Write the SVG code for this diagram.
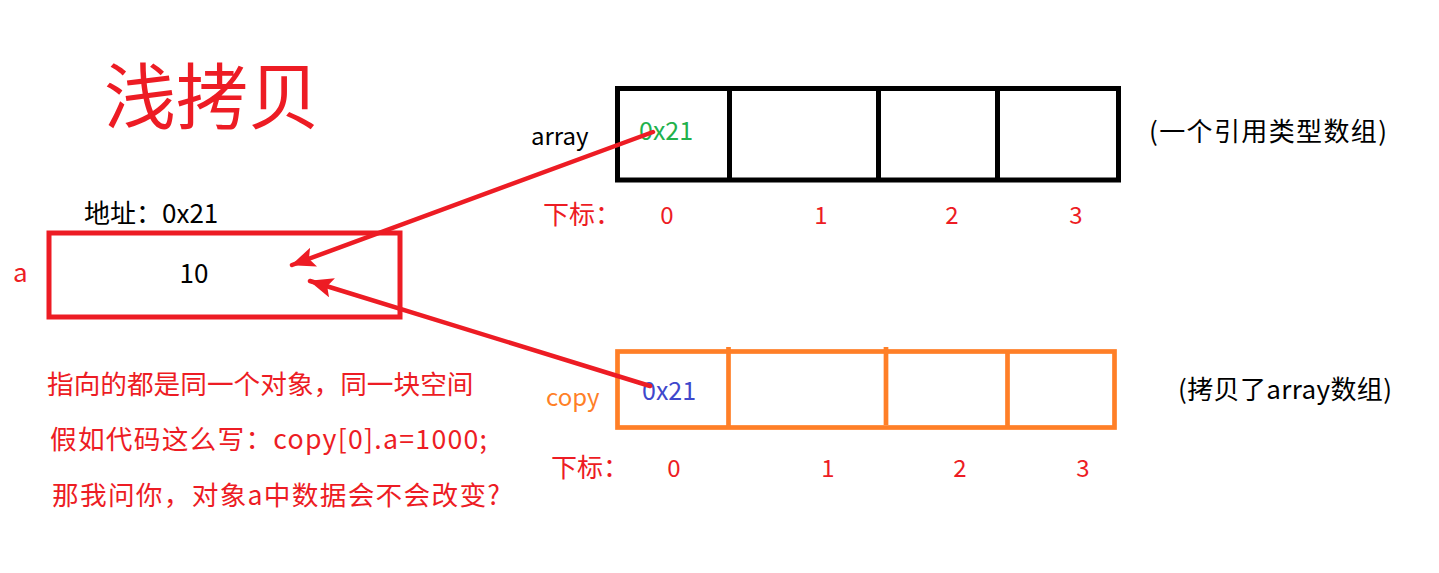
<svg xmlns="http://www.w3.org/2000/svg" width="1439" height="573" viewBox="0 0 1439 573">
<defs>
<style>
text{font-family:"Noto Sans CJK SC","Noto Sans",sans-serif;}
.red{fill:#ED1C24;}
.blk{fill:#000;}
.t26{font-size:26px;}
.t27{font-size:26.67px;}
.t24{font-size:24px;}
.mid{text-anchor:middle;}
.arrbox{fill:none;stroke:#000;stroke-width:5;}
.cpbox{fill:none;stroke:#FF7F27;stroke-width:4.7;}
.conn{stroke:#ED1C24;stroke-width:4.5;fill:none;stroke-linecap:round;}
</style>
<marker id="ah" markerUnits="userSpaceOnUse" markerWidth="26" markerHeight="22" refX="23" refY="10" orient="auto">
<path d="M0,0 L24,10 L0,20 L5,10 z" fill="#ED1C24"/>
</marker>
</defs>
<rect width="1439" height="573" fill="#fff"/>

<g id="title">
<text x="104" y="123" class="red" style="font-size:72px">浅拷贝</text>
</g>

<g id="node-a">
<text x="84" y="223" class="blk t26">地址：0x21</text>
<rect x="49" y="233" width="351" height="84" fill="none" stroke="#ED1C24" stroke-width="5"/>
<text x="194" y="283" class="blk t26 mid">10</text>
<text x="13" y="282" class="red t26">a</text>
</g>

<g id="node-array">
<text x="531" y="145" class="blk t24">array</text>
<rect x="617.5" y="88.5" width="501" height="91.5" class="arrbox"/>
<line x1="729.5" y1="88.5" x2="729.5" y2="180" class="arrbox"/>
<line x1="878.5" y1="88.5" x2="878.5" y2="180" class="arrbox"/>
<line x1="997.5" y1="88.5" x2="997.5" y2="180" class="arrbox"/>
<text x="639" y="140" style="font-size:25px;fill:#22B14C">0x21</text>
<text x="1149" y="141" class="blk t26" textLength="238" lengthAdjust="spacing">(一个引用类型数组)</text>
<text x="543" y="224" class="red t26">下标：</text>
<text x="667" y="224" class="red t24 mid">0</text>
<text x="821" y="224" class="red t24 mid">1</text>
<text x="952" y="224" class="red t24 mid">2</text>
<text x="1076" y="224" class="red t24 mid">3</text>
</g>

<g id="node-copy">
<text x="546" y="406" style="font-size:24px;fill:#FF7F27">copy</text>
<rect x="617.5" y="351.5" width="497" height="76" class="cpbox"/>
<line x1="728.5" y1="347" x2="728.5" y2="427" class="cpbox"/>
<line x1="886" y1="347" x2="886" y2="425" class="cpbox"/>
<line x1="1007.5" y1="351.5" x2="1007.5" y2="427" class="cpbox"/>
<text x="642" y="400" style="font-size:25px;fill:#3F48CC">0x21</text>
<text x="1178" y="399" class="blk t26" textLength="214" lengthAdjust="spacing">(拷贝了array数组)</text>
<text x="551" y="477" class="red t26">下标：</text>
<text x="674" y="477" class="red t24 mid">0</text>
<text x="828" y="477" class="red t24 mid">1</text>
<text x="960" y="477" class="red t24 mid">2</text>
<text x="1083" y="477" class="red t24 mid">3</text>
</g>

<g id="notes">
<text x="47" y="394" class="red t27">指向的都是同一个对象，同一块空间</text>
<text x="50" y="449" class="red t27" textLength="437" lengthAdjust="spacing">假如代码这么写：copy[0].a=1000;</text>
<text x="52" y="505" class="red t27" textLength="448" lengthAdjust="spacing">那我问你，对象a中数据会不会改变?</text>
</g>

<g id="connectors">
<line x1="653" y1="132" x2="292" y2="265" class="conn" marker-end="url(#ah)"/>
<line x1="650" y1="386" x2="310" y2="281" class="conn" marker-end="url(#ah)"/>
</g>
</svg>
